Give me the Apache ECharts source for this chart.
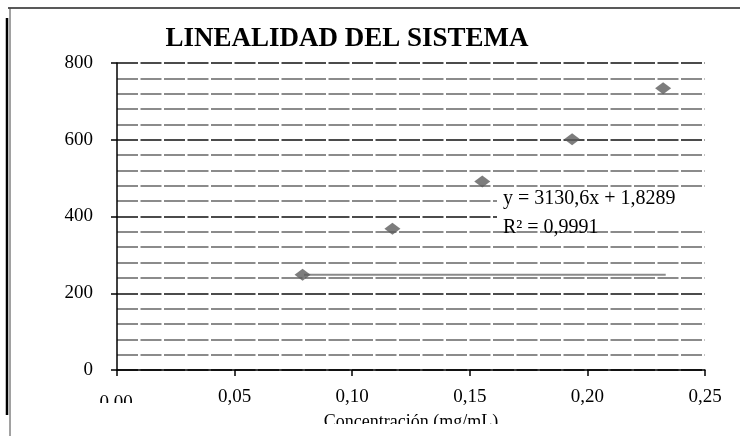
<!DOCTYPE html>
<html><head><meta charset="utf-8">
<script src="https://cdn.jsdelivr.net/npm/echarts@6/dist/echarts.min.js"></script>
<style>html,body{margin:0;padding:0;background:#fff}#c{width:740px;height:436px}</style>
</head><body><div id="c"></div>
<script>
const concentrations = [0.0789, 0.1171, 0.1553, 0.1935, 0.2322];
const responses = [248, 368, 491, 601, 734];
const trendX = [0.0795, 0.2333];
const trendY = [248, 248];
const xTicks = ['0,00', '0,05', '0,10', '0,15', '0,20', '0,25'];
const yTicks = ['0', '200', '400', '600', '800'];
const titleText = 'LINEALIDAD DEL SISTEMA';
const xName = 'Concentración (mg/mL)';
const equation = 'y = 3130,6x + 1,8289';
const r2Text = 'R² = 0,9991';

const FONT = '"Liberation Serif", "Times New Roman", serif';
const chart = echarts.init(document.getElementById('c'), null, {renderer: 'canvas'});
const pts = concentrations.map((x, i) => [x, responses[i]]);
const trend = trendX.map((x, i) => [x, trendY[i]]);

chart.setOption({
  animation: false,
  backgroundColor: '#fff',
  title: {
    text: titleText, left: 342, top: 21, textAlign: 'center',
    textStyle: {fontFamily: FONT, fontSize: 27, fontWeight: 'bold', color: '#000'}
  },
  grid: {left: 117, right: 35, top: 63, bottom: 60, containLabel: false},
  xAxis: {
    type: 'value', min: 0, max: 0.25, interval: 0.05,
    name: xName, nameLocation: 'middle', nameGap: 43,
    nameTextStyle: {fontFamily: FONT, fontSize: 18, color: '#000'},
    axisLine: {show: true, onZero: false, lineStyle: {color: '#000', width: 1.5}},
    axisTick: {show: true, length: 6, lineStyle: {color: '#000', width: 1.5}},
    axisLabel: {
      margin: 18, fontFamily: FONT, fontSize: 19, color: '#000',
      formatter: v => { const i = Math.round(v / 0.05); return i === 0 ? '' : xTicks[i]; }
    },
    splitLine: {show: false}
  },
  yAxis: {
    type: 'value', min: 0, max: 800, interval: 200,
    axisLine: {show: true, lineStyle: {color: '#000', width: 1.5}},
    axisTick: {show: true, length: 6, lineStyle: {color: '#000', width: 1.5}},
    axisLabel: {
      margin: 24, fontFamily: FONT, fontSize: 19, color: '#000',
      formatter: v => yTicks[Math.round(v / 200)]
    },
    splitLine: {show: true, lineStyle: {color: '#111', width: 1.5, type: [21, 2.5]}},
    minorTick: {show: false, splitNumber: 5},
    minorSplitLine: {show: true, lineStyle: {color: '#666', width: 1.5, type: [21, 2.5]}}
  },
  series: [
    {
      type: 'line', data: trend, symbol: 'none', z: 2,
      lineStyle: {color: '#8a8a8a', width: 2}
    },
    {
      type: 'scatter', data: pts, symbol: 'diamond', symbolSize: [16, 12], z: 3,
      itemStyle: {color: '#5c5c5c'}
    }
  ],
  graphic: [
    {type: 'rect', z: 100, shape: {x: 497, y: 194, width: 210, height: 29}, style: {fill: '#fff'}},
    {type: 'text', z: 101, x: 503, y: 199, style: {text: equation, font: '20px ' + FONT, fill: '#000', textVerticalAlign: 'middle'}},
    {type: 'text', z: 101, x: 503, y: 228, style: {text: r2Text, font: '20px ' + FONT, fill: '#000', textVerticalAlign: 'middle'}},
    {type: 'text', z: 100, x: 116, y: 403, style: {text: xTicks[0], font: '19px ' + FONT, fill: '#000', textAlign: 'center', textVerticalAlign: 'middle'}},
    {type: 'rect', z: 102, shape: {x: 90, y: 403, width: 60, height: 20}, style: {fill: '#fff'}},
    {type: 'rect', z: 102, shape: {x: 280, y: 424, width: 260, height: 14}, style: {fill: '#fff'}},
    {type: 'line', z: 103, shape: {x1: 8, y1: 8, x2: 740, y2: 8}, style: {stroke: '#222', lineWidth: 1.5}},
    {type: 'line', z: 103, shape: {x1: 10, y1: 8, x2: 10, y2: 436}, style: {stroke: '#444', lineWidth: 1}},
    {type: 'line', z: 103, shape: {x1: 7, y1: 18, x2: 7, y2: 415}, style: {stroke: '#000', lineWidth: 2.5}}
  ]
});
</script></body></html>
